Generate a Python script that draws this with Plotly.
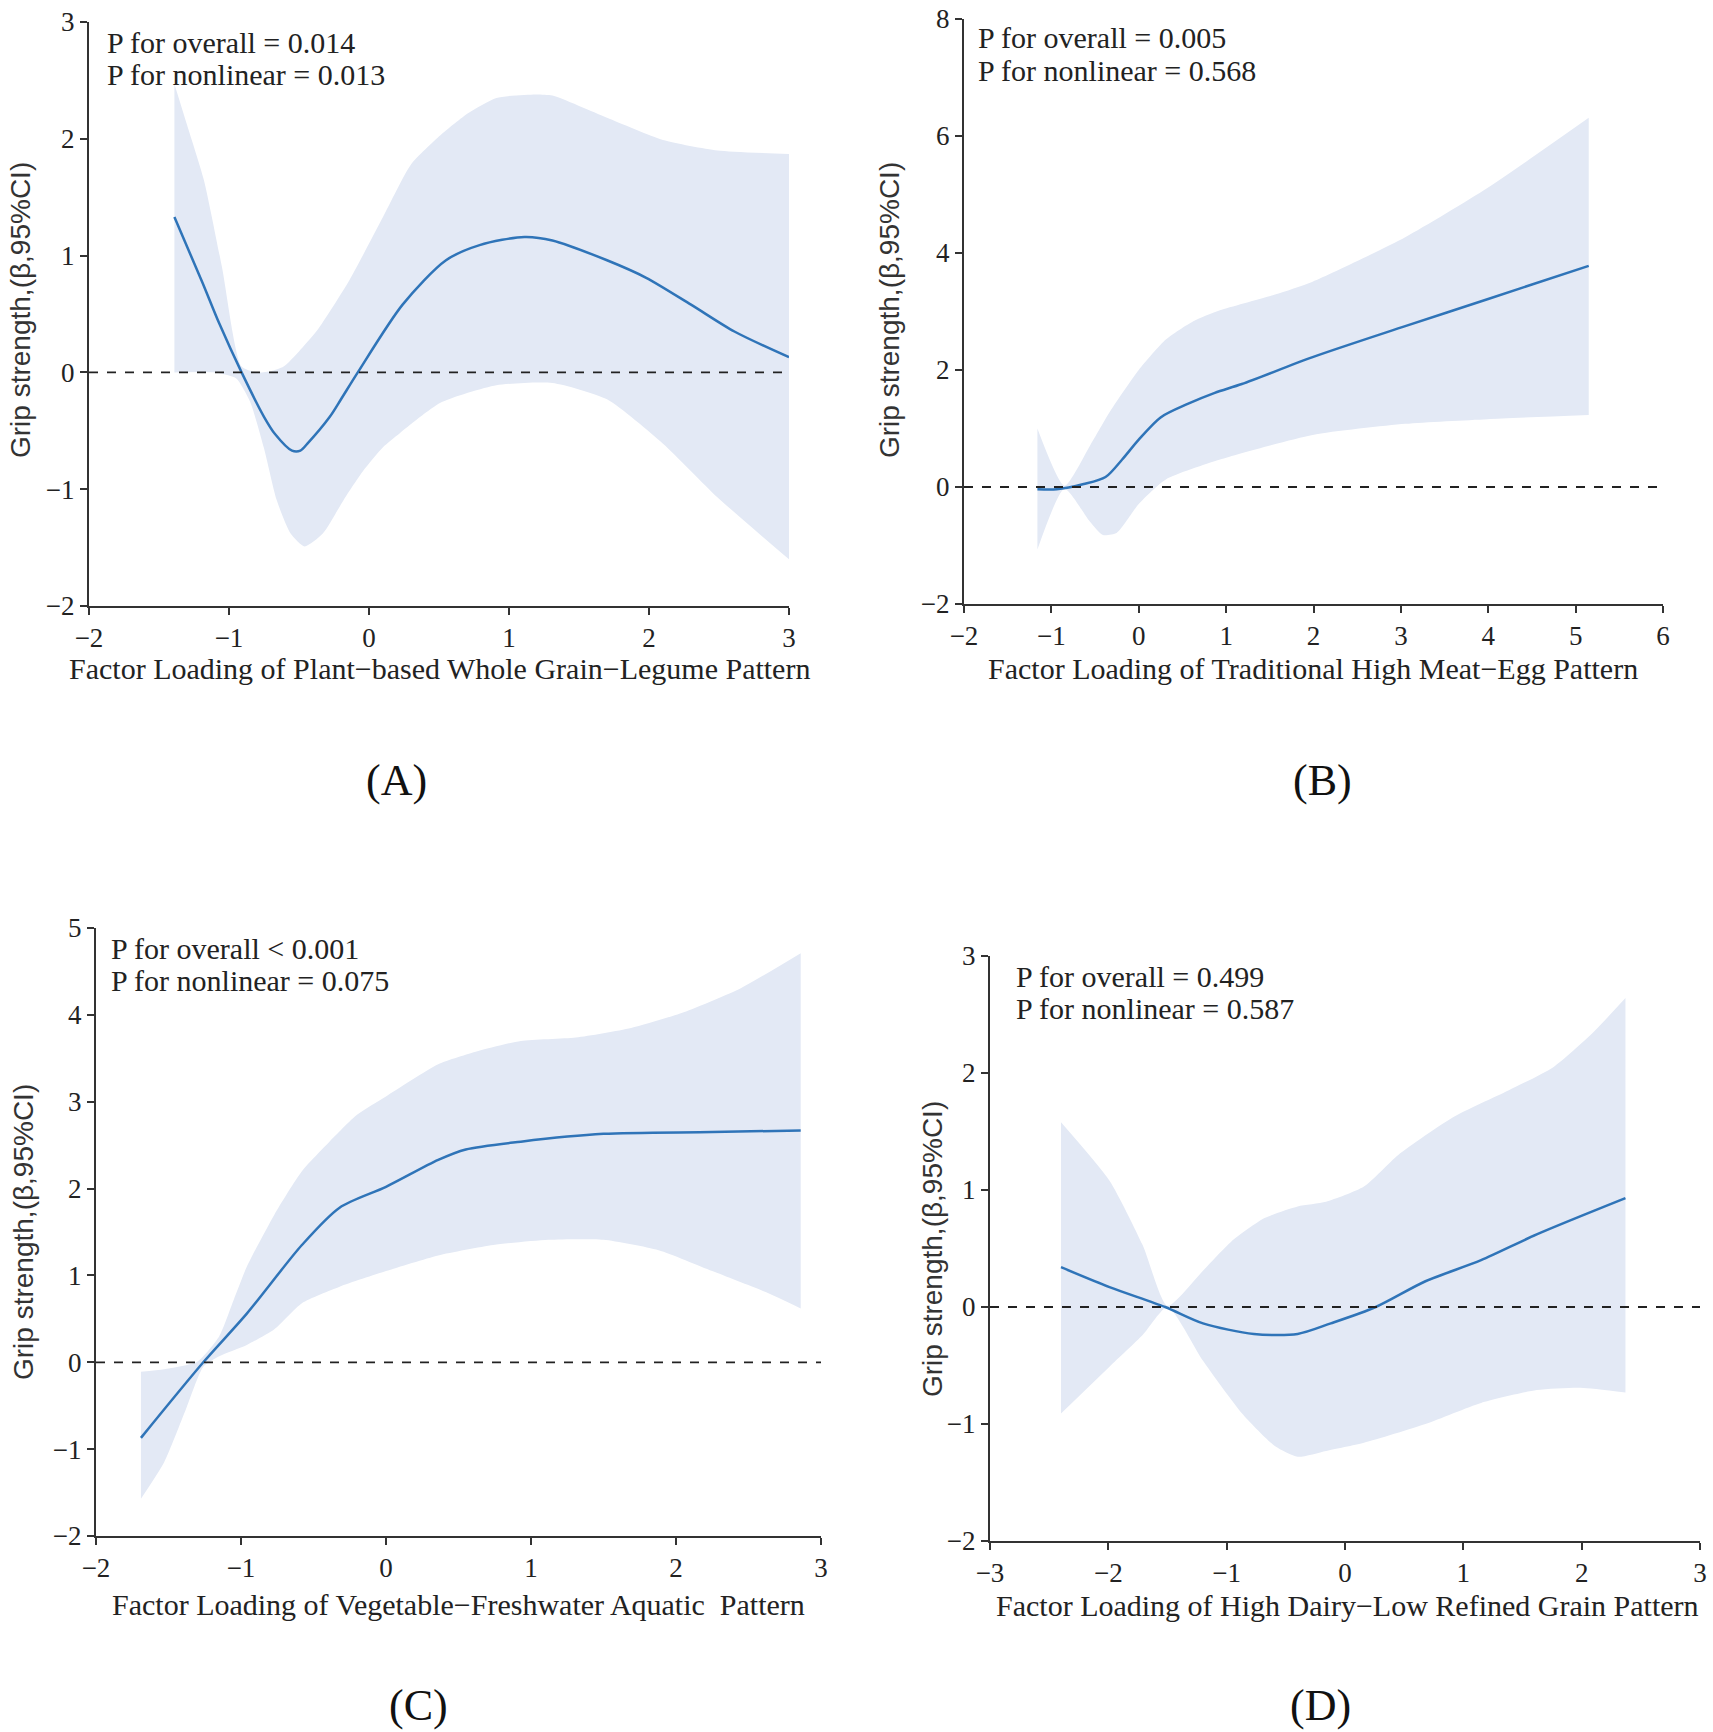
import plotly.graph_objects as go

W, H = 1713, 1732

# ---- panel A : Plant-based Whole Grain-Legume ----
a_x = [-1.39, -1.19, -1.07, -0.91, -0.75, -0.67, -0.55, -0.49, -0.44, -0.28, -0.20, -0.08,
       0.24, 0.55, 0.79, 1.11, 1.31, 1.70, 1.98, 2.30, 2.61, 3.0]
a_y = [1.33, 0.77, 0.42, 0.0, -0.38, -0.53, -0.67, -0.67, -0.61, -0.38, -0.23, 0.0,
       0.58, 0.96, 1.09, 1.16, 1.13, 0.96, 0.81, 0.58, 0.35, 0.13]
a_up_x = [-1.39, -1.30, -1.18, -1.05, -0.91, -0.80, -0.70, -0.61, -0.50, -0.37, -0.14, 0.10,
          0.30, 0.51, 0.71, 0.91, 1.19, 1.31, 1.70, 2.10, 2.49, 3.0]
a_up_y = [2.47, 2.12, 1.65, 0.90, 0.05, 0.0, 0.01, 0.05, 0.18, 0.36, 0.79, 1.33,
          1.78, 2.03, 2.22, 2.35, 2.38, 2.37, 2.18, 1.99, 1.90, 1.87]
a_lo_x = [-1.39, -1.10, -0.95, -0.85, -0.75, -0.66, -0.56, -0.46, -0.33, -0.18, -0.04, 0.10,
          0.22, 0.51, 0.91, 1.31, 1.70, 2.10, 2.49, 3.0]
a_lo_y = [0.0, 0.0, -0.05, -0.25, -0.65, -1.09, -1.38, -1.49, -1.38, -1.09, -0.84, -0.64,
          -0.52, -0.26, -0.11, -0.09, -0.23, -0.61, -1.07, -1.60]

# ---- panel B : Traditional High Meat-Egg ----
b_x = [-1.16, -0.94, -0.63, -0.38, -0.19, 0.0, 0.25, 0.56, 0.87, 1.18, 1.99, 3.05, 3.99, 5.15]
b_y = [-0.04, -0.04, 0.05, 0.17, 0.47, 0.81, 1.19, 1.42, 1.61, 1.76, 2.22, 2.75, 3.21, 3.78]
b_up_x = [-1.16, -0.85, -0.56, -0.32, 0.0, 0.31, 0.62, 0.93, 1.56, 1.99, 3.05, 3.99, 5.15]
b_up_y = [1.0, 0.02, 0.70, 1.31, 2.0, 2.52, 2.83, 3.02, 3.29, 3.51, 4.27, 5.11, 6.31]
b_lo_x = [-1.16, -0.85, -0.56, -0.41, -0.25, 0.0, 0.31, 0.93, 1.99, 3.05, 3.99, 5.15]
b_lo_y = [-1.07, -0.03, -0.59, -0.82, -0.78, -0.29, 0.13, 0.47, 0.89, 1.08, 1.16, 1.23]

# ---- panel C : Vegetable-Freshwater Aquatic ----
c_x = [-1.69, -1.26, -0.96, -0.58, -0.32, 0.0, 0.36, 0.55, 0.93, 1.50, 2.25, 2.86]
c_y = [-0.87, 0.0, 0.56, 1.35, 1.78, 2.02, 2.33, 2.45, 2.54, 2.63, 2.65, 2.67]
c_up_x = [-1.69, -1.53, -1.30, -1.15, -1.05, -0.96, -0.77, -0.58, -0.39, -0.20, 0.0, 0.36,
          0.63, 0.93, 1.31, 1.69, 2.07, 2.45, 2.86]
c_up_y = [-0.11, -0.08, 0.01, 0.30, 0.72, 1.10, 1.70, 2.20, 2.54, 2.85, 3.06, 3.43,
          3.58, 3.70, 3.74, 3.85, 4.04, 4.31, 4.71]
c_lo_x = [-1.69, -1.53, -1.38, -1.26, -1.15, -0.96, -0.77, -0.58, -0.32, 0.0, 0.36, 0.74,
          1.12, 1.50, 1.88, 2.25, 2.63, 2.86]
c_lo_y = [-1.57, -1.15, -0.54, -0.05, 0.07, 0.20, 0.38, 0.68, 0.87, 1.05, 1.23, 1.35,
          1.41, 1.41, 1.29, 1.05, 0.80, 0.62]

# ---- panel D : High Dairy-Low Refined Grain ----
d_x = [-2.40, -1.99, -1.52, -1.20, -0.77, -0.40, -0.12, 0.26, 0.68, 1.15, 1.62, 2.37]
d_y = [0.34, 0.17, 0.0, -0.14, -0.23, -0.23, -0.14, 0.0, 0.22, 0.40, 0.62, 0.93]
d_up_x = [-2.40, -1.99, -1.71, -1.50, -1.20, -0.96, -0.68, -0.40, -0.16, 0.16, 0.45, 0.91,
          1.38, 1.76, 2.09, 2.37]
d_up_y = [1.58, 1.08, 0.53, 0.01, 0.31, 0.56, 0.76, 0.86, 0.90, 1.03, 1.30, 1.62,
          1.85, 2.05, 2.34, 2.64]
d_lo_x = [-2.40, -1.99, -1.71, -1.50, -1.20, -0.87, -0.59, -0.40, -0.16, 0.16, 0.68, 1.15,
          1.62, 1.99, 2.37]
d_lo_y = [-0.91, -0.51, -0.24, 0.0, -0.46, -0.91, -1.19, -1.28, -1.23, -1.16, -1.0, -0.82,
          -0.71, -0.69, -0.73]

x_titles = ["Factor Loading of Plant\u2212based Whole Grain\u2212Legume Pattern",
            "Factor Loading of Traditional High Meat\u2212Egg Pattern",
            "Factor Loading of Vegetable\u2212Freshwater Aquatic  Pattern",
            "Factor Loading of High Dairy\u2212Low Refined Grain Pattern"]
p_overall = ["P for overall = 0.014", "P for overall = 0.005",
             "P for overall < 0.001", "P for overall = 0.499"]
p_nonlinear = ["P for nonlinear = 0.013", "P for nonlinear = 0.568",
               "P for nonlinear = 0.075", "P for nonlinear = 0.587"]
panel_tags = ["(A)", "(B)", "(C)", "(D)"]
x_ranges = [[-2, 3], [-2, 6], [-2, 3], [-3, 3]]
y_ranges = [[-2, 3], [-2, 8], [-2, 5], [-2, 3]]
y_dticks = [1, 2, 1, 1]

LINE = "#2f74b8"
BAND = "#e3e9f5"
SERIF = "Liberation Serif, Times New Roman, serif"
SANS = "Liberation Sans, Arial, sans-serif"


def px(x):
    return x / W


def py(y):
    return 1 - y / H


# pixel boxes of each plot area: (left, right, top, bottom)
boxes = [(89, 789, 22, 606), (964, 1663, 19, 604), (96, 821, 928, 1536), (990, 1700, 956, 1541)]
p_pos = [(105, 42, 74), (976, 38, 70), (109, 948, 980), (1014, 976, 1008)]
xt_pos = [(439, 669), (1313, 669), (459, 1604), (1347, 1605)]
yt_pos = [(21, 310), (890, 310), (23, 1232), (932, 1249)]
tag_pos = [(396, 780), (1322, 780), (418, 1705), (1320, 1705)]

panels = [(a_x, a_y, a_up_x, a_up_y, a_lo_x, a_lo_y),
          (b_x, b_y, b_up_x, b_up_y, b_lo_x, b_lo_y),
          (c_x, c_y, c_up_x, c_up_y, c_lo_x, c_lo_y),
          (d_x, d_y, d_up_x, d_up_y, d_lo_x, d_lo_y)]

fig = go.Figure()
annotations = []
shapes = []
layout_axes = {}

for i, (lx, ly, ux, uy, lox, loy) in enumerate(panels):
    n = "" if i == 0 else str(i + 1)
    xa, ya = "x" + n, "y" + n
    # confidence band: lower edge, then upper edge filled down to it
    fig.add_trace(go.Scatter(x=lox, y=loy, mode="lines",
                             line=dict(width=0, color=BAND, shape="spline", smoothing=0.6),
                             hoverinfo="skip", showlegend=False, xaxis=xa, yaxis=ya))
    fig.add_trace(go.Scatter(x=ux, y=uy, mode="lines", fill="tonexty", fillcolor=BAND,
                             line=dict(width=0, color=BAND, shape="spline", smoothing=0.6),
                             hoverinfo="skip", showlegend=False, xaxis=xa, yaxis=ya))
    fig.add_trace(go.Scatter(x=lx, y=ly, mode="lines",
                             line=dict(color=LINE, width=2.5, shape="spline", smoothing=0.8),
                             showlegend=False, xaxis=xa, yaxis=ya))

    l, r, t, b = boxes[i]
    common = dict(showgrid=False, zeroline=False, showline=True, linecolor="#333", linewidth=2,
                  ticks="outside", ticklen=7, tickwidth=2, tickcolor="#333", automargin=False,
                  tickfont=dict(family=SERIF, size=27, color="#222"))
    layout_axes["xaxis" + n] = dict(domain=[px(l), px(r)], anchor=ya, range=x_ranges[i],
                                    dtick=1, tick0=0, **common)
    layout_axes["yaxis" + n] = dict(domain=[py(b), py(t)], anchor=xa, range=y_ranges[i],
                                    dtick=y_dticks[i], tick0=0, **common)

    shapes.append(dict(type="line", xref=xa + " domain", yref=ya, x0=0, x1=1, y0=0, y1=0,
                       line=dict(color="#222", width=1.8, dash="dash"), layer="above"))

    x0, y1, y2 = p_pos[i]
    annotations.append(dict(text=p_overall[i], x=px(x0), y=py(y1), xref="paper", yref="paper",
                            xanchor="left", yanchor="middle", showarrow=False,
                            font=dict(family=SERIF, size=30, color="#222")))
    annotations.append(dict(text=p_nonlinear[i], x=px(x0), y=py(y2), xref="paper", yref="paper",
                            xanchor="left", yanchor="middle", showarrow=False,
                            font=dict(family=SERIF, size=30, color="#222")))
    annotations.append(dict(text=x_titles[i], x=px(xt_pos[i][0]), y=py(xt_pos[i][1]),
                            xref="paper", yref="paper", showarrow=False,
                            xanchor="center", yanchor="middle",
                            font=dict(family=SERIF, size=30, color="#222")))
    annotations.append(dict(text="Grip strength,(\u03b2,95%CI)", x=px(yt_pos[i][0]),
                            y=py(yt_pos[i][1]), xref="paper", yref="paper", showarrow=False,
                            textangle=-90, xanchor="center", yanchor="middle",
                            font=dict(family=SANS, size=28, color="#333")))
    annotations.append(dict(text=panel_tags[i], x=px(tag_pos[i][0]), y=py(tag_pos[i][1]),
                            xref="paper", yref="paper", showarrow=False,
                            xanchor="center", yanchor="middle",
                            font=dict(family=SERIF, size=44, color="#111")))

fig.update_layout(width=W, height=H, margin=dict(l=0, r=0, t=0, b=0),
                  plot_bgcolor="white", paper_bgcolor="white",
                  annotations=annotations, shapes=shapes, **layout_axes)

# the page's default body margin would push the figure off the window
fig.write_html("out.html", config={"displayModeBar": False},
               post_script="document.body.style.margin='0';")
